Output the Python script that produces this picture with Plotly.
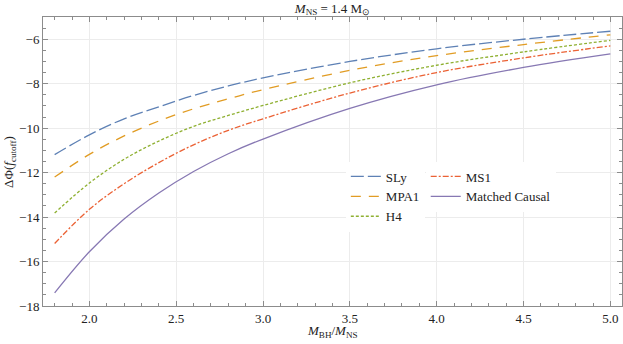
#!/usr/bin/env python3

import plotly.graph_objs as go

# mass ratio M_BH / M_NS
mass_ratio = [1.8, 2.0, 2.2, 2.4, 2.6, 2.8, 3.0, 3.5, 4.0, 4.5, 5.0]

# dephasing at f_cutoff for each equation of state
sly = [-11.19, -10.30, -9.58, -9.04, -8.53, -8.10, -7.74, -7.00, -6.43,
       -6.00, -5.64]
mpa1 = [-12.20, -11.18, -10.35, -9.68, -9.13, -8.68, -8.27, -7.40, -6.74,
        -6.24, -5.80]
h4 = [-13.82, -12.47, -11.40, -10.58, -9.92, -9.43, -8.98, -7.96, -7.17,
      -6.57, -6.05]
ms1 = [-15.19, -13.65, -12.50, -11.55, -10.75, -10.10, -9.58, -8.42, -7.50,
       -6.84, -6.30]
matched_causal = [-17.41, -15.56, -14.09, -12.92, -11.95, -11.15, -10.49,
                  -9.11, -8.05, -7.27, -6.66]

x_ticks = [2.0, 2.5, 3.0, 3.5, 4.0, 4.5, 5.0]
y_ticks = [-18, -16, -14, -12, -10, -8, -6]

FONT = "Liberation Serif"


def make_trace(y, name, color, dash, legend):
    return go.Scatter(x=mass_ratio, y=y, name=name, mode="lines",
                      line=dict(color=color, width=1.3, dash=dash,
                                shape="spline"),
                      legend=legend)


def main():
    traces = [
        make_trace(sly, "SLy", "#5E81B5", "13px,4px", "legend"),
        make_trace(mpa1, "MPA1", "#E19C24", "10px,8px", "legend"),
        make_trace(h4, "H4", "#8FB032", "3px,2px", "legend"),
        make_trace(ms1, "MS1", "#EB6235", "6px,2px,2px,2px", "legend2"),
        make_trace(matched_causal, "Matched Causal", "#8778B3", "solid",
                   "legend2"),
    ]

    axis_style = dict(showline=True, linecolor="#8c8c8c", linewidth=1,
                      mirror="allticks", ticks="inside", ticklen=5,
                      tickcolor="#8c8c8c", showgrid=True,
                      gridcolor="#ececec", gridwidth=1, zeroline=False,
                      ticklabeloverflow="allow",
                      tickfont=dict(family=FONT, size=13, color="#222"))

    legend_style = dict(bgcolor="white", borderwidth=0, yanchor="top",
                        xanchor="left", tracegroupgap=0, itemwidth=30,
                        font=dict(family=FONT, size=13, color="#222"))

    layout = go.Layout(
        width=623, height=344,
        margin=dict(l=43, r=1, t=17, b=38),
        paper_bgcolor="white", plot_bgcolor="white",
        font=dict(family=FONT, size=13, color="#222"),
        title=dict(text="<i>M</i><sub>NS</sub> = 1.4 M<sub>⊙</sub>",
                   x=0.5, xref="paper", xanchor="center",
                   y=1 - 8 / 344, yanchor="middle",
                   font=dict(family=FONT, size=13, color="#222")),
        xaxis=dict(range=[1.733, 5.067], tickvals=x_ticks,
                   tickformat=".1f",
                   minor=dict(dtick=0.1, ticks="inside", ticklen=3,
                              tickcolor="#8c8c8c", showgrid=False),
                   **axis_style),
        yaxis=dict(range=[-18, -5], tickvals=y_ticks,
                   minor=dict(dtick=0.5, ticks="inside", ticklen=3,
                              tickcolor="#8c8c8c", showgrid=False),
                   **axis_style),
        legend=dict(x=0.523, y=0.50, **legend_style),
        legend2=dict(x=0.661, y=0.50, **legend_style),
        annotations=[
            dict(text="<i>M</i><sub>BH</sub>/<i>M</i><sub>NS</sub>",
                 xref="paper", yref="paper", x=0.5, y=-0.088,
                 xanchor="center", yanchor="middle", showarrow=False,
                 font=dict(family=FONT, size=13, color="#222")),
            dict(text="ΔΦ(<i>f</i><sub>cutoff</sub>)",
                 xref="paper", yref="paper", x=-0.058, y=0.5,
                 xanchor="center", yanchor="middle", showarrow=False,
                 textangle=-90,
                 font=dict(family=FONT, size=13, color="#222")),
        ],
    )

    fig = go.Figure(data=traces, layout=layout)
    # drop the browser's default page margin so the figure sits at (0, 0)
    fig.write_html("out.html", config={"displayModeBar": False},
                   post_script="document.body.style.margin = '0';")


if __name__ == "__main__":
    main()
